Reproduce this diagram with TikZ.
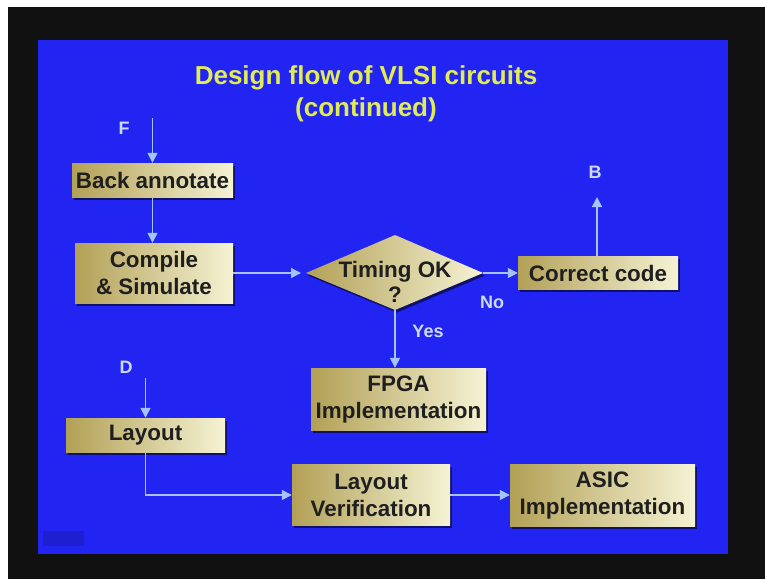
\documentclass[tikz,border=0pt]{standalone}
\usepackage{fontspec}
\setmainfont{Liberation Sans}
\usetikzlibrary{arrows.meta,shadows}

\definecolor{slideblue}{RGB}{34,36,242}
\definecolor{frameblack}{RGB}{16,17,16}
\definecolor{titleyellow}{RGB}{226,236,84}
\definecolor{labelblue}{RGB}{205,218,255}
\definecolor{linkblue}{RGB}{165,195,255}
\definecolor{boxdark}{RGB}{178,160,86}
\definecolor{boxmid}{RGB}{230,222,150}
\definecolor{boxlight}{RGB}{245,243,212}
\definecolor{logoblue}{RGB}{20,24,150}

\tikzset{
  stepbox/.style={draw=none, left color=boxdark, middle color=boxmid, right color=boxlight,
    drop shadow={shadow xshift=2pt, shadow yshift=-2.5pt, fill=black, opacity=.55},
    font=\bfseries\fontsize{22.4}{27}\selectfont, text=black!88, align=center, inner sep=0pt},
  letter/.style={text=labelblue, font=\bfseries\fontsize{18}{20}\selectfont, inner sep=0pt},
  link/.style={draw=linkblue, line width=1.5pt, -{Triangle[width=10pt,length=10pt]}},
}

\begin{document}
\begin{tikzpicture}[x=1pt, y=-1pt]
  % page, frame and slide
  \useasboundingbox (0,0) rectangle (765,579);
  \fill[white] (0,0) rectangle (765,579);
  \fill[frameblack] (8,7) rectangle (765,579);
  \fill[slideblue] (38,40) rectangle (728,554);
  % small logo in the corner
  \fill[logoblue, opacity=.35] (43,531) rectangle (84,546);

  % title
  \node[text=titleyellow, font=\bfseries\fontsize{26}{32}\selectfont, align=center, inner sep=0pt]
    (title) at (366,94) {Design flow of VLSI circuits\\(continued)};

  % process boxes
  \node[stepbox, minimum width=161pt, minimum height=34pt] (back) at (152.5,180) {Back annotate};
  \node[stepbox, minimum width=158pt, minimum height=60pt] (comp) at (154,273) {Compile\\\& Simulate};
  \node[stepbox, minimum width=160pt, minimum height=33pt] (corr) at (598,273) {Correct code};
  \node[stepbox, minimum width=175pt, minimum height=62pt] (fpga) at (398.5,399) {FPGA\\Implementation};
  \node[stepbox, minimum width=159pt, minimum height=34pt] (lay) at (145.5,435) {Layout};
  \node[stepbox, minimum width=158pt, minimum height=61pt] (lver) at (371,495) {Layout\\Verification};
  \node[stepbox, minimum width=185pt, minimum height=62pt] (asic) at (602.5,495) {ASIC\\Implementation};

  % decision
  \coordinate (dl) at (306,273);
  \coordinate (dt) at (395,235);
  \coordinate (dr) at (483,273);
  \coordinate (db) at (395,310);
  \path[left color=boxdark, middle color=boxmid, right color=boxlight,
        drop shadow={shadow xshift=2pt, shadow yshift=-2.5pt, fill=black, opacity=.55}]
    (dl) -- (dt) -- (dr) -- (db) -- cycle;
  \node[font=\bfseries\fontsize{22.4}{25}\selectfont, text=black!88, align=center, inner sep=0pt]
    (timing) at (395,282) {Timing OK\\?};

  % off-page connectors
  \node[letter] (F) at (124,128) {F};
  \node[letter] (B) at (595,172) {B};
  \node[letter] (D) at (126,367) {D};
  \coordinate (fin) at (152.5,118);
  \coordinate (bout) at (597,197);
  \coordinate (din) at (145.5,378);

  % branch labels
  \node[letter] (yes) at (428,331) {Yes};
  \node[letter] (no) at (492,302) {No};

  % connectors
  \draw[link] (fin) -- (back.north);
  \draw[link] (back.south) -- (back.south |- comp.north);
  \draw[link, shorten >=5pt] (comp.east) -- (dl);
  \draw[link] (dr) -- (corr.west);
  \draw[link] (corr.north -| bout) -- (bout);
  \draw[link] (db) -- (db |- fpga.north);
  \draw[link] (din) -- (lay.north);
  \draw[link] (lay.south) |- (lver.west);
  \draw[link] (lver.east) -- (asic.west);
\end{tikzpicture}
\end{document}
